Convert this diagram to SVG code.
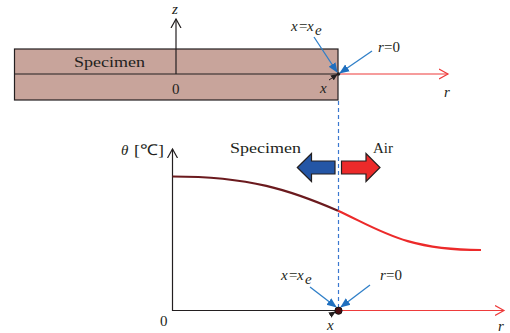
<svg xmlns="http://www.w3.org/2000/svg" width="510" height="333" viewBox="0 0 510 333">
<defs>
<style>
.t{font-family:"Liberation Serif","Times New Roman",serif;font-size:15px;fill:#231f20}
.i{font-style:italic}
.ax{stroke:#231f20;stroke-width:1.2;fill:none}
.red{stroke:#ee3b3b;stroke-width:1.2;fill:none}
.bl{stroke:#2f7fc8;stroke-width:1.3;fill:none}
</style>
<marker id="open" markerWidth="12" markerHeight="12" refX="9" refY="5" orient="auto" markerUnits="userSpaceOnUse" viewBox="0 0 12 10">
<path d="M0,0 L9,5 L0,10" fill="none" stroke="#231f20" stroke-width="1.2"/>
</marker>
<marker id="openr" markerWidth="12" markerHeight="12" refX="9" refY="5" orient="auto" markerUnits="userSpaceOnUse" viewBox="0 0 12 10">
<path d="M0,0 L9,5 L0,10" fill="none" stroke="#ee3b3b" stroke-width="1.2"/>
</marker>
<marker id="blue" markerWidth="10" markerHeight="10" refX="9" refY="4" orient="auto" markerUnits="userSpaceOnUse" viewBox="0 0 10 8">
<path d="M0,0 L10,4 L0,8 Z" fill="#1f6fbf"/>
</marker>
<marker id="blk" markerWidth="7" markerHeight="7" refX="6" refY="3" orient="auto" markerUnits="userSpaceOnUse" viewBox="0 0 7 6">
<path d="M0,0 L7,3 L0,6 Z" fill="#231f20"/>
</marker>
</defs>

<g id="specimen-bar">
<rect x="14.5" y="49" width="323.5" height="51" fill="#c8a49b" stroke="#231f20" stroke-width="1.2"/>
<line x1="14.5" y1="74" x2="338" y2="74" stroke="#231f20" stroke-width="1.2"/>
<text class="t" x="74" y="67" font-size="16" textLength="71" lengthAdjust="spacingAndGlyphs">Specimen</text>
<text class="t" x="172" y="94" font-size="16">0</text>
<text class="t i" x="320" y="93" font-size="16">x</text>
</g>

<g id="top-axes">
<line class="ax" x1="176" y1="74" x2="176" y2="19" marker-end="url(#open)"/>
<text class="t i" x="172" y="14" font-size="13">z</text>
<line class="red" x1="338" y1="74" x2="448" y2="74" marker-end="url(#openr)"/>
<text class="t i" x="444" y="97" font-size="16">r</text>
</g>

<g id="top-labels">
<text class="t i" x="291" y="31">x</text><text class="t" x="299" y="31">=</text><text class="t i" x="307" y="31">x</text><text class="t i" x="315" y="35" font-size="10">e</text>
<text class="t i" x="378" y="52" font-size="16">r</text><text class="t" x="384" y="52" font-size="16">=0</text>
</g>

<g id="top-point">
<circle cx="338.5" cy="74" r="1.8" fill="#231f20"/>
</g>

<g id="plot-axes">
<line class="ax" x1="172.5" y1="311" x2="172.5" y2="149" marker-end="url(#open)"/>
<line class="ax" x1="172.5" y1="310.5" x2="338" y2="310.5"/>
<line class="red" x1="338" y1="310.5" x2="504" y2="310.5" marker-end="url(#openr)"/>
<text class="t i" x="121" y="155" font-size="16">θ</text><text class="t" x="134" y="155" font-size="16" textLength="30" lengthAdjust="spacingAndGlyphs">[℃]</text>
<text class="t" x="160" y="326" font-size="16">0</text>
<text class="t i" x="327" y="330" font-size="16">x</text>
<text class="t i" x="498" y="331" font-size="16">r</text>
</g>

<g id="curve">
<path d="M172.5,176.5 C250,176.5 290,190 338,210.7" fill="none" stroke="#6b1a1e" stroke-width="2.2"/>
<path d="M338,210.7 C380,230 405,250 481,250" fill="none" stroke="#ec2a2a" stroke-width="2.2"/>
</g>

<g id="flux-arrows">
<path d="M335,161 L311.5,161 L311.5,153.5 L297.3,167.5 L311.5,181.5 L311.5,174 L335,174 Z" fill="#2456a6" stroke="#231f20" stroke-width="1.2"/>
<path d="M341.5,161 L366,161 L366,153.5 L380,167.5 L366,181.5 L366,174 L341.5,174 Z" fill="#ec2a2a" stroke="#231f20" stroke-width="1.2"/>
<text class="t" x="230" y="153" font-size="16" textLength="71" lengthAdjust="spacingAndGlyphs">Specimen</text>
<text class="t" x="373" y="153" font-size="16">Air</text>
</g>

<g id="bottom-labels">
<text class="t i" x="281" y="280">x</text><text class="t" x="289" y="280">=</text><text class="t i" x="297" y="280">x</text><text class="t i" x="305" y="284" font-size="10">e</text>
<text class="t i" x="380" y="280" font-size="16">r</text><text class="t" x="386" y="280" font-size="16">=0</text>
</g>

<g id="connectors">
<line x1="338.5" y1="101" x2="338.5" y2="308" stroke="#3b78d0" stroke-width="1.2" stroke-dasharray="4,3"/>
<line class="bl" x1="314" y1="37" x2="337" y2="72" marker-end="url(#blue)"/>
<line class="bl" x1="372" y1="51" x2="340" y2="73" marker-end="url(#blue)"/>
<line x1="329" y1="80" x2="337" y2="74.5" stroke="#231f20" stroke-width="1" marker-end="url(#blk)"/>
<line class="bl" x1="310" y1="287" x2="336" y2="307" marker-end="url(#blue)"/>
<line class="bl" x1="370" y1="285" x2="341" y2="307" marker-end="url(#blue)"/>
<line x1="330" y1="315" x2="335" y2="312" stroke="#231f20" stroke-width="1" marker-end="url(#blk)"/>
</g>

<g id="bottom-point">
<circle cx="338.5" cy="310.7" r="3.6" fill="#4a0c10" stroke="#111" stroke-width="1"/>
</g>
</svg>
